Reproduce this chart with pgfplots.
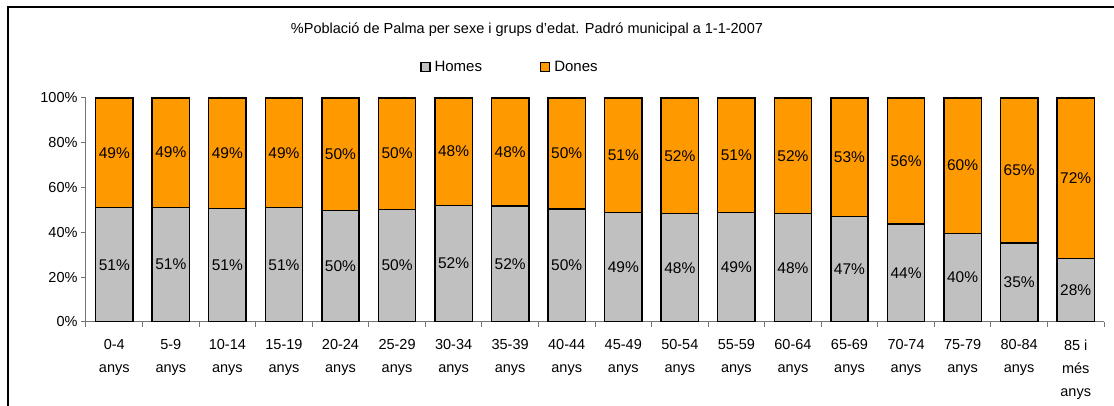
\documentclass[border=0pt]{standalone}
\usepackage{fontspec}
\setmainfont{Liberation Sans}
\usepackage{pgfplots}
\pgfplotsset{compat=1.18}
\usepackage{pgfplotstable}
\definecolor{homes}{HTML}{C0C0C0}
\definecolor{dones}{HTML}{FF9900}

% grup, homes (%), dones (%)
\pgfplotstableread{
x homes dones
0  51.0 49.0
1  51.2 48.8
2  50.6 49.4
3  51.0 49.0
4  49.7 50.3
5  50.3 49.7
6  52.1 47.9
7  51.8 48.2
8  50.4 49.6
9  48.9 51.1
10 48.4 51.6
11 48.8 51.2
12 48.4 51.6
13 47.0 53.0
14 43.8 56.2
15 39.6 60.4
16 35.2 64.8
17 28.3 71.7
}\poblacio

\begin{document}
\begin{tikzpicture}[x=1pt,y=1pt]
\path[use as bounding box] (-86,-84) rectangle (1028,322);
\draw[line width=1.4pt] (1030,315) -- (-78,315) -- (-78,-86);
\node[font=\fontsize{14.5}{17}\selectfont] at (441,292) {\%Població de Palma per sexe i grups d'edat. Padró municipal a 1-1-2007};
\begin{axis}[
    at={(0pt,0pt)}, anchor=south west,
    scale only axis, width=1018pt, height=224pt,
    ybar stacked, bar width=0.66,
    xmin=-0.5, xmax=17.5, ymin=0, ymax=100,
    axis x line*=bottom, axis y line*=left,
    axis line style={black!55, line width=1pt},
    xtick={0,...,17},
    xticklabels={{0-4\\anys},{5-9\\anys},{10-14\\anys},{15-19\\anys},{20-24\\anys},{25-29\\anys},{30-34\\anys},{35-39\\anys},{40-44\\anys},{45-49\\anys},{50-54\\anys},{55-59\\anys},{60-64\\anys},{65-69\\anys},{70-74\\anys},{75-79\\anys},{80-84\\anys},{85 i\\més\\anys}},
    major x tick style={draw=none},
    minor xtick={-0.5,0.5,...,17.5},
    minor tick length=5pt,
    minor x tick style={black!55, line width=1pt},
    xticklabel style={align=center, font=\fontsize{14.5}{23}\selectfont, anchor=north, yshift=-9pt},
    ytick={0,20,40,60,80,100},
    yticklabels={0\%,20\%,40\%,60\%,80\%,100\%},
    yticklabel style={font=\fontsize{14.5}{17}\selectfont},
    major y tick style={black!55, line width=1pt},
    major tick length=5pt,
    tick align=outside,
    legend columns=2,
    legend style={draw=none, fill=none, at={(0.4165,1.138)}, anchor=center,
        font=\fontsize{15}{17}\selectfont,
        /tikz/every odd column/.append style={column sep=2pt},
        /tikz/every even column/.append style={column sep=56pt}},
    legend image code/.code={\draw[#1,line width=1.2pt] (0pt,-4.5pt) rectangle (9pt,4.5pt);},
    nodes near coords={\pgfmathprintnumber[fixed,precision=0,assume math mode=true]{\pgfplotspointmeta}\%},
    every node near coord/.append style={anchor=center, font=\fontsize{15.5}{17}\selectfont, black},
  ]
  \addplot[fill=homes, draw=black, line width=1.4pt] table[x=x, y=homes] {\poblacio};
  \addplot[fill=dones, draw=black, line width=1.4pt] table[x=x, y=dones] {\poblacio};
  \legend{Homes, Dones}
\end{axis}
\end{tikzpicture}
\end{document}
